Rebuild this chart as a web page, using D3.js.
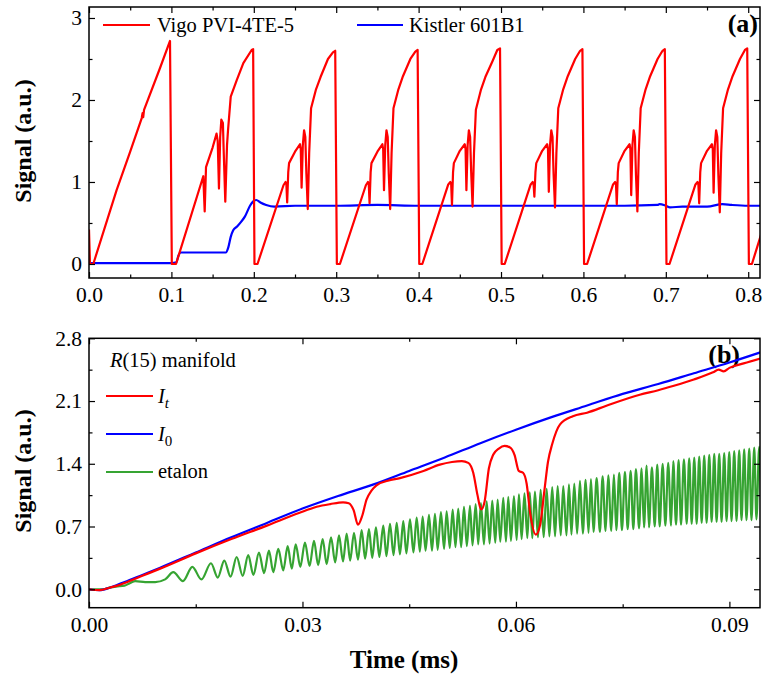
<!DOCTYPE html>
<html>
<head>
<meta charset="utf-8">
<script src="https://cdn.jsdelivr.net/npm/d3@7"></script>
<style>
  body { margin: 0; background: #fff; }
  svg { font-family: "Liberation Serif", "Times New Roman", serif; }
  .axis line { stroke: #000; stroke-width: 1.2; }
</style>
</head>
<body>
<svg width="764" height="680"></svg>
<script>
// ---------- panel (a): time in ms, signal in a.u. ----------
const vigo = [
  [0.0000, 0.42], [0.0012, 0.00], [0.0052, 0.00], [0.0335, 0.90], [0.0500, 1.37], [0.0640, 1.78],
  [0.0650, 1.84], [0.0658, 1.79], [0.0668, 1.88], [0.0862, 2.39], [0.0983, 2.72], [0.1005, 0.00],
  [0.1056, 0.00], [0.1387, 1.07], [0.1404, 0.64], [0.1420, 1.18], [0.1500, 1.42], [0.1548, 1.59],
  [0.1562, 1.50], [0.1577, 0.92], [0.1592, 1.55], [0.1606, 1.76], [0.1625, 1.72], [0.1634, 1.40],
  [0.1654, 0.76], [0.1675, 1.45], [0.1687, 1.63], [0.1720, 2.04], [0.1792, 2.24], [0.1873, 2.45],
  [0.1974, 2.61], [0.1992, 2.62], [0.2008, 0.00],
  [0.2045, 0.00], [0.2360, 0.96], [0.2385, 1.00], [0.2395, 0.98], [0.2405, 0.75], [0.2418, 1.12],
  [0.2428, 1.23], [0.2500, 1.37], [0.2560, 1.46], [0.2570, 1.40], [0.2580, 0.93], [0.2595, 1.45],
  [0.2610, 1.63], [0.2625, 1.55], [0.2638, 1.10], [0.2655, 0.67], [0.2672, 1.35], [0.2695, 1.90],
  [0.2755, 2.13], [0.2810, 2.28], [0.2900, 2.50], [0.2960, 2.58], [0.2988, 2.60], [0.3008, 0.00],
  [0.3045, 0.00], [0.3360, 0.96], [0.3385, 1.00], [0.3395, 0.98], [0.3405, 0.74], [0.3418, 1.12],
  [0.3428, 1.23], [0.3500, 1.37], [0.3560, 1.46], [0.3570, 1.40], [0.3580, 0.90], [0.3595, 1.45],
  [0.3610, 1.63], [0.3625, 1.55], [0.3638, 1.10], [0.3655, 0.67], [0.3672, 1.35], [0.3695, 1.90],
  [0.3755, 2.13], [0.3810, 2.29], [0.3900, 2.50], [0.3960, 2.59], [0.3988, 2.61], [0.4008, 0.00],
  [0.4045, 0.00], [0.4360, 0.97], [0.4385, 1.00], [0.4395, 0.98], [0.4405, 0.72], [0.4418, 1.12],
  [0.4428, 1.23], [0.4500, 1.38], [0.4560, 1.46], [0.4570, 1.40], [0.4580, 0.90], [0.4595, 1.45],
  [0.4610, 1.63], [0.4625, 1.55], [0.4638, 1.12], [0.4655, 0.70], [0.4672, 1.35], [0.4695, 1.88],
  [0.4755, 2.12], [0.4810, 2.28], [0.4895, 2.47], [0.4955, 2.61], [0.4988, 2.63], [0.5008, 0.00],
  [0.5045, 0.00], [0.5360, 0.97], [0.5385, 1.00], [0.5395, 0.98], [0.5405, 0.82], [0.5418, 1.12],
  [0.5428, 1.23], [0.5500, 1.38], [0.5560, 1.46], [0.5570, 1.40], [0.5580, 0.88], [0.5595, 1.45],
  [0.5610, 1.63], [0.5625, 1.55], [0.5638, 1.10], [0.5655, 0.69], [0.5672, 1.35], [0.5695, 1.90],
  [0.5755, 2.13], [0.5810, 2.29], [0.5900, 2.50], [0.5960, 2.60], [0.5988, 2.62], [0.6008, 0.00],
  [0.6045, 0.00], [0.6360, 0.97], [0.6385, 1.00], [0.6395, 0.98], [0.6405, 0.73], [0.6418, 1.12],
  [0.6428, 1.23], [0.6500, 1.38], [0.6560, 1.46], [0.6570, 1.40], [0.6580, 0.84], [0.6595, 1.45],
  [0.6610, 1.63], [0.6625, 1.55], [0.6638, 1.08], [0.6655, 0.64], [0.6672, 1.35], [0.6695, 1.90],
  [0.6755, 2.13], [0.6810, 2.29], [0.6900, 2.50], [0.6960, 2.60], [0.6988, 2.62], [0.7008, 0.00],
  [0.7045, 0.00], [0.7360, 0.97], [0.7385, 1.00], [0.7395, 0.98], [0.7405, 0.74], [0.7418, 1.12],
  [0.7428, 1.23], [0.7500, 1.38], [0.7560, 1.46], [0.7570, 1.40], [0.7580, 0.87], [0.7595, 1.45],
  [0.7610, 1.63], [0.7625, 1.55], [0.7638, 1.08], [0.7655, 0.63], [0.7672, 1.35], [0.7695, 1.90],
  [0.7755, 2.13], [0.7810, 2.29], [0.7900, 2.50], [0.7960, 2.61], [0.7988, 2.63], [0.8008, 0.00],
  [0.8045, 0.00], [0.8200, 0.50]
];

const kistler = [
  [0.0000, 0.01], [0.0500, 0.01], [0.1000, 0.01], [0.1060, 0.02], [0.1085, 0.10], [0.1110, 0.14],
  [0.1300, 0.14], [0.1500, 0.14], [0.1660, 0.14], [0.1690, 0.20], [0.1720, 0.33], [0.1750, 0.41],
  [0.1800, 0.46], [0.1850, 0.52], [0.1893, 0.58], [0.1954, 0.71], [0.1990, 0.76], [0.2030, 0.78],
  [0.2080, 0.75], [0.2150, 0.72], [0.2250, 0.70], [0.2500, 0.71], [0.3000, 0.71], [0.3500, 0.72],
  [0.4000, 0.71], [0.4500, 0.71], [0.5000, 0.71], [0.5500, 0.71], [0.6000, 0.71], [0.6500, 0.71],
  [0.6900, 0.72], [0.6925, 0.73], [0.7000, 0.71], [0.7050, 0.69], [0.7200, 0.70], [0.7500, 0.70],
  [0.7686, 0.73], [0.7800, 0.72], [0.8000, 0.71], [0.8200, 0.71]
];

const xTicksA = [0, 0.1, 0.2, 0.3, 0.4, 0.5, 0.6, 0.7, 0.8];
const xMinorA = [0.05, 0.15, 0.25, 0.35, 0.45, 0.55, 0.65, 0.75];
const yTicksA = [0, 1, 2, 3];
const yMinorA = [0.5, 1.5, 2.5];

// ---------- panel (b) ----------
const transmitted = [
  [0.0000, 0.00], [0.0015, -0.01], [0.0030, 0.02], [0.0040, 0.04], [0.0050, 0.07], [0.0075, 0.15],
  [0.0100, 0.23], [0.0150, 0.40], [0.0200, 0.56], [0.0250, 0.71], [0.0295, 0.85], [0.0320, 0.92],
  [0.0339, 0.95], [0.0357, 0.97], [0.0365, 0.96], [0.0372, 0.88], [0.0378, 0.72], [0.0384, 0.82],
  [0.0390, 1.00], [0.0397, 1.10], [0.0404, 1.16], [0.0420, 1.21], [0.0437, 1.24], [0.0470, 1.32],
  [0.0493, 1.39], [0.0510, 1.42], [0.0524, 1.43], [0.0533, 1.41], [0.0540, 1.30], [0.0546, 1.05],
  [0.0551, 0.89], [0.0556, 0.98], [0.0562, 1.35], [0.0568, 1.50], [0.0576, 1.57], [0.0584, 1.60],
  [0.0592, 1.58], [0.0598, 1.50], [0.0604, 1.32], [0.0610, 1.30], [0.0615, 1.18], [0.0620, 0.85],
  [0.0628, 0.61], [0.0634, 0.72], [0.0640, 1.10], [0.0645, 1.42], [0.0651, 1.62], [0.0662, 1.84],
  [0.0680, 1.93], [0.0700, 1.97], [0.0728, 2.05], [0.0774, 2.17], [0.0800, 2.22], [0.0822, 2.27],
  [0.0850, 2.34], [0.0877, 2.42], [0.0885, 2.45], [0.0892, 2.43], [0.0900, 2.47], [0.0920, 2.52],
  [0.0950, 2.59]
];

const incident = [
  [0.0000, 0.00], [0.0015, -0.01], [0.0030, 0.02], [0.0040, 0.05], [0.0050, 0.08], [0.0075, 0.16],
  [0.0100, 0.24], [0.0150, 0.41], [0.0200, 0.58], [0.0250, 0.74], [0.0300, 0.90], [0.0350, 1.04],
  [0.0400, 1.17], [0.0450, 1.32], [0.0500, 1.47], [0.0550, 1.63], [0.0600, 1.78], [0.0650, 1.92],
  [0.0700, 2.05], [0.0750, 2.18], [0.0800, 2.29], [0.0850, 2.41], [0.0900, 2.53], [0.0950, 2.66]
];

// etalon fringes: alternating peak / trough
const etalon = [
  [0.0000, 0.00], [0.0010, 0.00], [0.0020, 0.00], [0.0030, 0.02], [0.0038, 0.03], [0.0050, 0.04],
  [0.0058, 0.07], [0.0065, 0.09], [0.0079, 0.08], [0.0093, 0.08], [0.0107, 0.11],
  [0.01185, 0.19], [0.0132, 0.09], [0.01452, 0.25], [0.0158, 0.11], [0.01714, 0.29], [0.0181, 0.13],
  [0.01901, 0.32], [0.0199, 0.14], [0.02075, 0.36], [0.0216, 0.15], [0.02238, 0.38], [0.0231, 0.16],
  [0.02389, 0.41], [0.0246, 0.18], [0.02529, 0.43], [0.0259, 0.19], [0.02660, 0.45], [0.0273, 0.21],
  [0.02792, 0.48], [0.0285, 0.23], [0.02905, 0.50], [0.0297, 0.25], [0.03035, 0.52], [0.0310, 0.26],
  [0.03162, 0.54], [0.0322, 0.27], [0.03284, 0.56], [0.0334, 0.28], [0.03401, 0.58], [0.0346, 0.30],
  [0.03513, 0.60], [0.0357, 0.31], [0.03621, 0.62], [0.0367, 0.32], [0.03724, 0.63], [0.0378, 0.33],
  [0.03832, 0.66], [0.0388, 0.34], [0.03935, 0.67], [0.0398, 0.35], [0.04033, 0.69], [0.0408, 0.36],
  [0.04136, 0.71], [0.0418, 0.37], [0.04230, 0.73], [0.0428, 0.38], [0.04324, 0.74], [0.0437, 0.39],
  [0.04417, 0.76], [0.0446, 0.40], [0.04511, 0.78], [0.0456, 0.41], [0.04605, 0.80], [0.0465, 0.42],
  [0.04689, 0.81], [0.0473, 0.43], [0.04778, 0.83], [0.0482, 0.43], [0.04862, 0.84], [0.0490, 0.44],
  [0.04946, 0.86], [0.0499, 0.45], [0.05026, 0.87], [0.0507, 0.46], [0.05111, 0.89], [0.0515, 0.47],
  [0.05189, 0.90], [0.0523, 0.47], [0.05270, 0.92], [0.0531, 0.48], [0.05354, 0.93], [0.0539, 0.49],
  [0.05434, 0.95], [0.0547, 0.50], [0.05508, 0.96], [0.0555, 0.50], [0.05589, 0.98], [0.0563, 0.51],
  [0.05667, 0.99], [0.0571, 0.52], [0.05743, 1.00], [0.0578, 0.53], [0.05822, 1.02], [0.0586, 0.53],
  [0.05892, 1.03], [0.0593, 0.54], [0.05972, 1.04], [0.0601, 0.55], [0.06042, 1.06], [0.0608, 0.56],
  [0.06120, 1.07], [0.0616, 0.57], [0.06194, 1.08], [0.0623, 0.57], [0.06267, 1.09], [0.0631, 0.58],
  [0.06347, 1.11], [0.0639, 0.58], [0.06432, 1.12], [0.0647, 0.59], [0.06510, 1.14], [0.0655, 0.59],
  [0.06586, 1.15], [0.0663, 0.60], [0.06665, 1.15], [0.0671, 0.60], [0.06745, 1.17], [0.0678, 0.61],
  [0.06820, 1.18], [0.0686, 0.62], [0.06900, 1.21], [0.0694, 0.62], [0.06980, 1.22], [0.0702, 0.63],
  [0.07054, 1.23], [0.0709, 0.64], [0.07134, 1.24], [0.0718, 0.64], [0.07218, 1.26], [0.0726, 0.65],
  [0.07297, 1.27], [0.0734, 0.65], [0.07377, 1.28], [0.0741, 0.66], [0.07452, 1.30], [0.0749, 0.66],
  [0.07532, 1.31], [0.0757, 0.67], [0.07612, 1.32], [0.0765, 0.67], [0.07686, 1.34], [0.0773, 0.68],
  [0.07766, 1.35], [0.0780, 0.69], [0.07837, 1.38], [0.0787, 0.69], [0.07911, 1.36], [0.0795, 0.70],
  [0.07986, 1.39], [0.0802, 0.70], [0.08062, 1.40], [0.0810, 0.71], [0.08140, 1.41], [0.0818, 0.71],
  [0.08211, 1.43], [0.0825, 0.72], [0.08286, 1.44], [0.0832, 0.72], [0.08361, 1.45], [0.0840, 0.73],
  [0.08435, 1.46], [0.0847, 0.73], [0.08506, 1.47], [0.0854, 0.73], [0.08576, 1.48], [0.0861, 0.74],
  [0.08646, 1.49], [0.0868, 0.74], [0.08717, 1.50], [0.0875, 0.75], [0.08787, 1.51], [0.0882, 0.75],
  [0.08857, 1.51], [0.0889, 0.75], [0.08927, 1.52], [0.0896, 0.76], [0.08998, 1.53], [0.0903, 0.76],
  [0.09068, 1.54], [0.0910, 0.76], [0.09138, 1.55], [0.0917, 0.77], [0.09208, 1.56], [0.0924, 0.77],
  [0.09279, 1.57], [0.0931, 0.77], [0.09349, 1.58], [0.0938, 0.78], [0.09419, 1.59], [0.0945, 0.78]
];

const xTicksB = [0, 0.03, 0.06, 0.09];
const xMinorB = [0.015, 0.045, 0.075];
const yTicksB = [0, 0.7, 1.4, 2.1, 2.8];
const yMinorB = [0.35, 1.05, 1.75, 2.45];

const red = "#ff0000", blue = "#0000ff", green = "#36a432";

const svg = d3.select("svg");

const xA = d3.scaleLinear().domain([0, 0.8143]).range([89, 760]);
const yA = d3.scaleLinear().domain([-0.171, 3.134]).range([278, 7]);
const xB = d3.scaleLinear().domain([0, 0.0943]).range([89, 760]);
const yB = d3.scaleLinear().domain([-0.206, 2.8]).range([607.7, 338.3]);

// inward ticks on all four sides, labels on bottom and left only
function drawFrame(x, y, xMaj, xMin, yMaj, yMin, xFmt, yFmt) {
  const [xl, xr] = x.range(), [yb, yt] = y.range();
  const g = svg.append("g");
  const none = () => "";
  const add = (axis, vals, size, fmt, pad, tx, ty) => {
    const a = g.append("g")
      .attr("class", "axis")
      .attr("transform", `translate(${tx},${ty})`)
      .call(axis.tickValues(vals).tickSizeInner(size).tickSizeOuter(0).tickPadding(pad).tickFormat(fmt));
    a.select(".domain").remove();
    a.attr("font-family", null).attr("font-size", null);
    a.selectAll("text").style("font-size", "21.5px").attr("fill", "#000");
  };
  add(d3.axisBottom(x), xMaj, -6, xFmt, 9, 0, yb);
  add(d3.axisBottom(x), xMin, -3.5, none, 0, 0, yb);
  add(d3.axisTop(x), xMaj, -6, none, 0, 0, yt);
  add(d3.axisTop(x), xMin, -3.5, none, 0, 0, yt);
  add(d3.axisLeft(y), yMaj, -6, yFmt, 7, xl, 0);
  add(d3.axisLeft(y), yMin, -3.5, none, 0, xl, 0);
  add(d3.axisRight(y), yMaj, -6, none, 0, xr, 0);
  add(d3.axisRight(y), yMin, -3.5, none, 0, xr, 0);
  g.append("rect")
    .attr("x", xl).attr("y", yt)
    .attr("width", xr - xl).attr("height", yb - yt)
    .attr("fill", "none").attr("stroke", "#000").attr("stroke-width", 1.5);
}

function clip(id, x, y) {
  svg.append("clipPath").attr("id", id).append("rect")
    .attr("x", x.range()[0]).attr("y", y.range()[1])
    .attr("width", x.range()[1] - x.range()[0]).attr("height", y.range()[0] - y.range()[1]);
}

function trace(data, x, y, color, curve, clipId) {
  const line = d3.line().x(d => x(d[0])).y(d => y(d[1])).curve(curve);
  svg.append("path")
    .datum(data)
    .attr("clip-path", `url(#${clipId})`)
    .attr("fill", "none")
    .attr("stroke", color)
    .attr("stroke-width", 2.2)
    .attr("stroke-linejoin", "round")
    .attr("d", line);
}

//////////// PANEL (a) ////////////
clip("clipA", xA, yA);
trace(kistler, xA, yA, blue, d3.curveMonotoneX, "clipA");
trace(vigo, xA, yA, red, d3.curveLinear, "clipA");
drawFrame(xA, yA, xTicksA, xMinorA, yTicksA, yMinorA, d3.format(".1f"), d3.format("d"));

svg.append("line").attr("x1", 103).attr("x2", 150).attr("y1", 25).attr("y2", 25)
  .attr("stroke", red).attr("stroke-width", 2.2);
svg.append("text").attr("x", 157).attr("y", 32).attr("font-size", 20.5).text("Vigo PVI-4TE-5");
svg.append("line").attr("x1", 357).attr("x2", 403).attr("y1", 25).attr("y2", 25)
  .attr("stroke", blue).attr("stroke-width", 2.2);
svg.append("text").attr("x", 409).attr("y", 32).attr("font-size", 20.5).text("Kistler 601B1");
svg.append("text").attr("x", 758).attr("y", 32).attr("text-anchor", "end")
  .attr("font-size", 26).attr("font-weight", "bold").text("(a)");

//////////// PANEL (b) ////////////
clip("clipB", xB, yB);
svg.append("text").attr("x", 740).attr("y", 363).attr("text-anchor", "end")
  .attr("font-size", 26).attr("font-weight", "bold").text("(b)");
trace(etalon, xB, yB, green, d3.curveMonotoneX, "clipB");
trace(incident, xB, yB, blue, d3.curveMonotoneX, "clipB");
trace(transmitted, xB, yB, red, d3.curveMonotoneX, "clipB");
drawFrame(xB, yB, xTicksB, xMinorB, yTicksB, yMinorB, d3.format(".2f"), d3.format(".1f"));

const lg = svg.append("g").attr("font-size", 20.5);
const r15 = lg.append("text").attr("x", 110).attr("y", 367);
r15.append("tspan").attr("font-style", "italic").text("R");
r15.append("tspan").text("(15) manifold");

const legendB = [
  {color: red, y: 396},
  {color: blue, y: 434},
  {color: green, y: 472}
];
legendB.forEach(d => {
  lg.append("line").attr("x1", 106).attr("x2", 153).attr("y1", d.y).attr("y2", d.y)
    .attr("stroke", d.color).attr("stroke-width", 2.2);
});
const it = lg.append("text").attr("x", 158).attr("y", 403);
it.append("tspan").attr("font-style", "italic").text("I");
it.append("tspan").attr("font-style", "italic").attr("font-size", 15).attr("dy", 5).text("t");
const i0 = lg.append("text").attr("x", 158).attr("y", 441);
i0.append("tspan").attr("font-style", "italic").text("I");
i0.append("tspan").attr("font-size", 15).attr("dy", 5).text("0");
lg.append("text").attr("x", 158).attr("y", 478).text("etalon");

//////////// AXIS TITLES ////////////
svg.append("text").attr("transform", "translate(31,141) rotate(-90)")
  .attr("text-anchor", "middle").attr("font-size", 24).attr("font-weight", "bold").text("Signal (a.u.)");
svg.append("text").attr("transform", "translate(31,471) rotate(-90)")
  .attr("text-anchor", "middle").attr("font-size", 24).attr("font-weight", "bold").text("Signal (a.u.)");
svg.append("text").attr("x", 404).attr("y", 668)
  .attr("text-anchor", "middle").attr("font-size", 25).attr("font-weight", "bold").text("Time (ms)");
</script>
</body>
</html>
